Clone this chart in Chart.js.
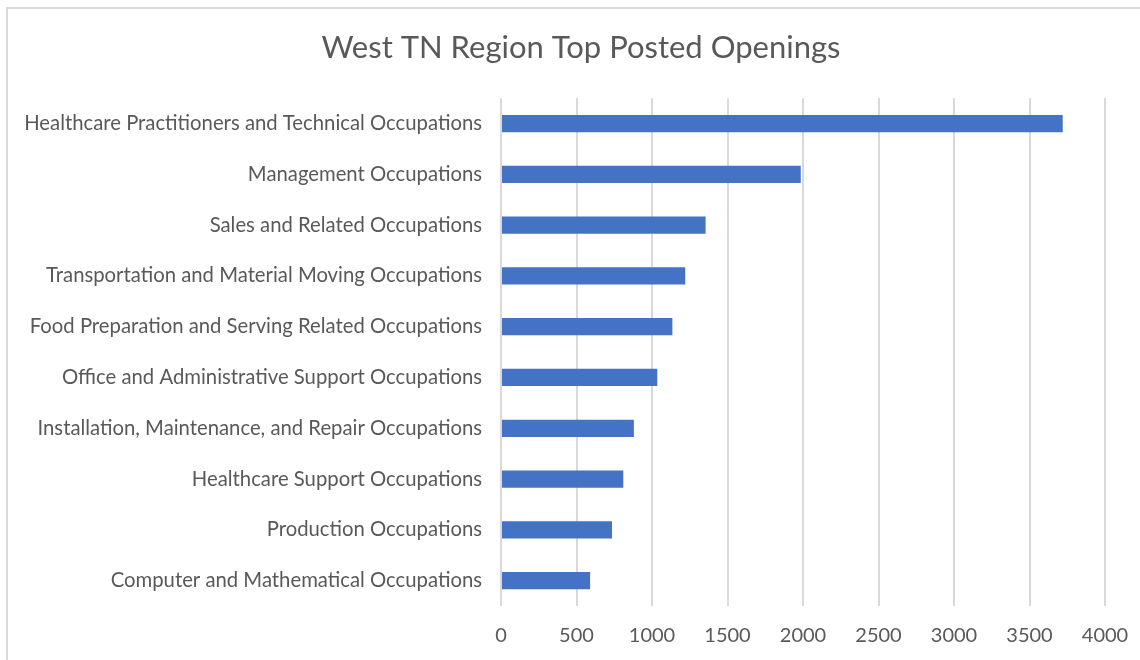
<!DOCTYPE html>
<html>
<head>
<meta charset="utf-8">
<title>West TN Region Top Posted Openings</title>
<script src="https://cdn.jsdelivr.net/npm/chart.js@4"></script>
<style>
    html, body { margin: 0; padding: 0; background: #fff; overflow: hidden; width: 1140px; height: 660px; }
    #frame {
        position: absolute; left: 6px; top: 7px;
        width: 1140px; height: 700px;
        border-left: 2px solid #d9d9d9; border-top: 2px solid #d9d9d9;
    }
    /* canvas a bit wider than the window so the title centres where the original has it */
    #wrap { position: absolute; left: 0; top: 0; width: 1162px; height: 660px; }
</style>
</head>
<body>
<div id="frame"></div>
<div id="wrap"><canvas id="openingsChart"></canvas></div>
<script>
    // Data
    const occupations = [
        "Healthcare Practitioners and Technical Occupations",
        "Management Occupations",
        "Sales and Related Occupations",
        "Transportation and Material Moving Occupations",
        "Food Preparation and Serving Related Occupations",
        "Office and Administrative Support Occupations",
        "Installation, Maintenance, and Repair Occupations",
        "Healthcare Support Occupations",
        "Production Occupations",
        "Computer and Mathematical Occupations"
    ];
    const postedOpenings = [3720, 1985, 1355, 1220, 1135, 1035, 880, 810, 735, 590];
    const xTicks = [0, 500, 1000, 1500, 2000, 2500, 3000, 3500, 4000];

    const textColor = "#595959";
    const gridColor = "#d9d9d9";

    const ctx = document.getElementById("openingsChart").getContext("2d");
    new Chart(ctx, {
        type: "bar",
        data: {
            labels: occupations,
            datasets: [{
                label: "Posted Openings",
                data: postedOpenings,
                backgroundColor: "#4472c4",
                borderWidth: 0,
                categoryPercentage: 1,
                barPercentage: 0.34
            }]
        },
        options: {
            indexAxis: "y",
            responsive: true,
            maintainAspectRatio: false,
            animation: false,
            layout: { padding: 0 },
            plugins: {
                legend: { display: false },
                tooltip: { enabled: false },
                title: {
                    display: true,
                    text: "West TN Region Top Posted Openings",
                    color: textColor,
                    font: { family: "Lato", size: 31, weight: "normal" },
                    padding: { top: 29, bottom: 32 }
                }
            },
            scales: {
                x: {
                    min: 0,
                    max: 4000,
                    afterBuildTicks: scale => {
                        scale.ticks = xTicks.map(v => ({ value: v }));
                    },
                    afterFit: scale => { scale.height = 54; },
                    grid: {
                        color: gridColor,
                        lineWidth: 2,
                        drawTicks: true,
                        tickLength: 0
                    },
                    border: { display: false },
                    ticks: {
                        color: textColor,
                        padding: 18,
                        maxRotation: 0,
                        font: { family: "Lato", size: 20 },
                        callback: value => String(value)
                    }
                },
                y: {
                    afterFit: scale => { scale.width = 501; },
                    grid: { display: false, drawTicks: false },
                    border: { display: false },
                    ticks: {
                        color: textColor,
                        padding: 19,
                        autoSkip: false,
                        font: { family: "Lato", size: 20.3 }
                    }
                },
                // empty spacer on the right, keeps room for the last x label
                spacer: {
                    type: "linear",
                    position: "right",
                    afterFit: scale => { scale.width = 57; },
                    grid: { display: false, drawTicks: false },
                    border: { display: false },
                    ticks: { display: false }
                }
            }
        }
    });
</script>
</body>
</html>
